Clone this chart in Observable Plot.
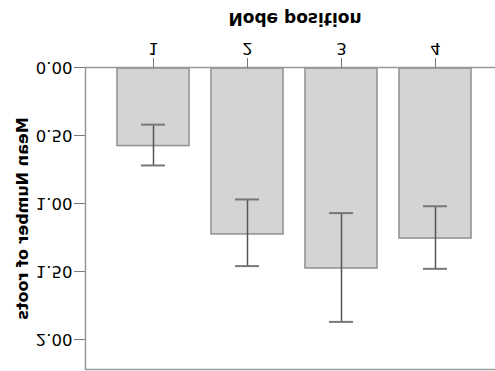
<!DOCTYPE html>
<html>
<head>
<meta charset="utf-8">
<script src="https://cdn.jsdelivr.net/npm/d3@7"></script>
<script src="https://cdn.jsdelivr.net/npm/@observablehq/plot@0.6"></script>
<style>
  html, body { margin: 0; padding: 0; background: #fff; overflow: hidden; }
  #chart { width: 495px; height: 371px; overflow: hidden; transform: scaleY(-1); transform-origin: center; }
  #chart svg { font-family: "DejaVu Sans", sans-serif; max-width: none !important; display: block; }
  g[aria-label="x-axis label"] text { font-weight: bold; font-size: 17px; }
  g[aria-label="y-axis label"] text { font-weight: bold; font-size: 16px; }
  g[aria-label="x-axis tick label"] text, g[aria-label="y-axis tick label"] text { font-size: 16.5px; }
</style>
</head>
<body>
<div id="chart"></div>
<script>
const categories = ["1", "2", "3", "4"];
const means = [0.57, 1.22, 1.47, 1.25];
const errLow = [0.42, 0.97, 1.07, 1.02];
const errHigh = [0.72, 1.46, 1.87, 1.48];
const yTicks = [0, 0.5, 1, 1.5, 2];

const data = categories.map((c, i) => ({pos: c, mean: means[i], lo: errLow[i], hi: errHigh[i]}));

const chart = Plot.plot({
  width: 505,
  height: 371,
  marginLeft: 85,
  marginRight: 1,
  marginTop: 1,
  marginBottom: 68,
  style: {fontSize: "16px", fontFamily: "DejaVu Sans, sans-serif", color: "#000", background: "#fff", maxWidth: "none"},
  x: {domain: categories, paddingInner: 0.234, paddingOuter: 0.34},
  y: {domain: [0, 2.22]},
  marks: [
    Plot.barY(data, {x: "pos", y: "mean", fill: "#d4d4d4", stroke: "#8f8f8f", strokeWidth: 1.5}),
    Plot.ruleX(data, {x: "pos", y1: "lo", y2: "hi", stroke: "#555", strokeWidth: 1.5}),
    Plot.tickY(data, {x: "pos", y: "lo", stroke: "#777", strokeWidth: 2, insetLeft: 24, insetRight: 24}),
    Plot.tickY(data, {x: "pos", y: "hi", stroke: "#777", strokeWidth: 2, insetLeft: 24, insetRight: 24}),
    Plot.frame({stroke: "#999", strokeWidth: 1.5}),
    Plot.axisX({tickSize: 10, tickPadding: 3, stroke: "#777", label: "Node position", labelAnchor: "center", labelOffset: 55, labelArrow: "none"}),
    Plot.axisY({ticks: yTicks, tickFormat: d3.format(".2f"), tickSize: 11, tickPadding: 2, stroke: "#777", label: "Mean Number of roots", labelAnchor: "center", labelOffset: 69, labelArrow: "none"})
  ]
});
document.getElementById("chart").appendChild(chart);
</script>
</body>
</html>
